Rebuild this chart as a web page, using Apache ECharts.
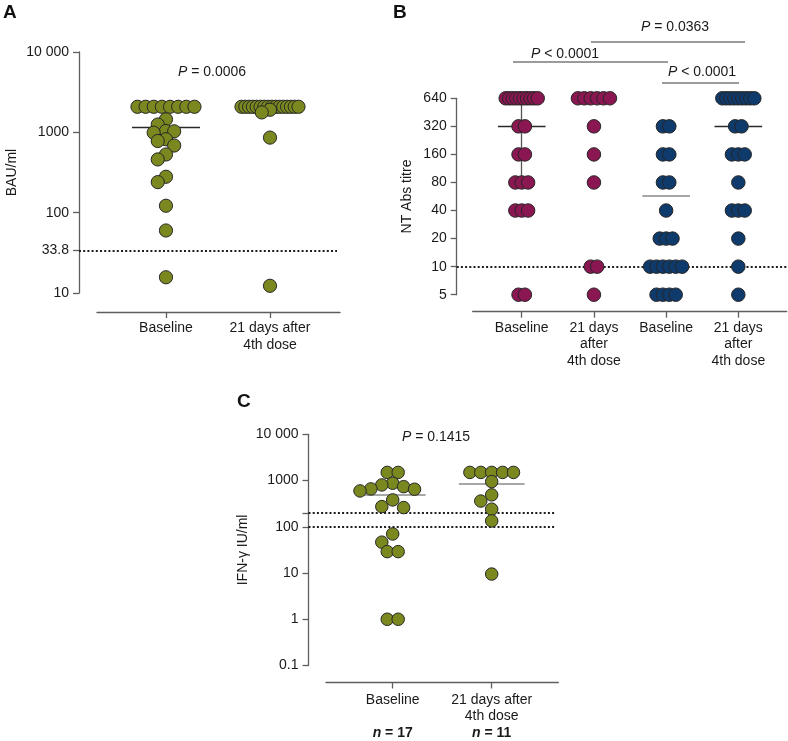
<!DOCTYPE html>
<html>
<head>
<meta charset="utf-8">
<script src="https://cdn.jsdelivr.net/npm/echarts@6/dist/echarts.min.js"></script>
<style>
html, body { margin: 0; padding: 0; background: #fff; }
#chart { width: 788px; height: 741px; }
</style>
</head>
<body>
<div id="chart"></div>
<script>
// panel A - anti-spike antibodies
let groupsA = ['Baseline', '21 days after\n4th dose'];
let bauBaseline = [2080, 2080, 2080, 2080, 2080, 2080, 2080, 2080, 1450, 1250, 1040, 1030, 990, 820, 780, 685, 530, 460, 280, 240, 122, 60, 15.7];
let bauAfter = [2080, 2080, 2080, 2080, 2080, 2080, 2080, 2080, 2080, 2080, 2080, 2080, 2080, 2080, 2080, 2080, 1910, 1770, 860, 12.3];
let bauMean = [1150, 2080];
let bauCutoff = 33.8;
let bauTicks = [10, 33.8, 100, 1000, 10000];

// panel B - neutralising antibody titres
let groupsB = ['Baseline', '21 days\nafter\n4th dose', 'Baseline', '21 days\nafter\n4th dose'];
let ntMagentaBaseline = [640, 640, 640, 640, 640, 640, 640, 640, 640, 640, 320, 320, 160, 160, 80, 80, 80, 40, 40, 40, 5, 5];
let ntMagentaAfter = [640, 640, 640, 640, 640, 640, 320, 160, 80, 10, 10, 5];
let ntBlueBaseline = [320, 320, 160, 160, 80, 80, 40, 20, 20, 20, 10, 10, 10, 10, 10, 10, 5, 5, 5, 5];
let ntBlueAfter = [640, 640, 640, 640, 640, 640, 640, 640, 640, 320, 320, 160, 160, 160, 80, 40, 40, 40, 20, 10, 5];
let ntCentre = [320, null, 57, 320];
let ntRange = [80, 640];
let ntCutoff = 10;
let ntTicks = [5, 10, 20, 40, 80, 160, 320, 640];

// panel C - IFN-gamma release
let groupsC = ['Baseline', '21 days after\n4th dose'];
let ifnBaseline = [1500, 1500, 875, 803, 738, 659, 649, 596, 381, 273, 260, 70, 46.5, 29, 29, 1, 1];
let ifnAfter = [1500, 1500, 1500, 1500, 1500, 950, 490, 360, 240, 134, 9.5];
let ifnMedian = [490, 860];
let ifnN = [17, 11];
let ifnCutoff = [200, 100];
let ifnTicks = [0.1, 1, 10, 100, 200, 1000, 10000];
let ifnLabels = [0.1, 1, 10, 100, 1000, 10000];

let FONT = '"Liberation Sans", Arial, Helvetica, sans-serif';
let AXIS = '#5e5e5e';
let TXT = '#1a1a1a';
let OLIVE = '#7b881f';
let MAGENTA = '#8a1752';
let BLUE = '#0e3a6c';

let panels = [
	{ left: 97, top: 52, width: 243, height: 241, yOff: 18, xOff: 19, xMin: 0.337, xMax: 2.673 },
	{ left: 472.7, top: 98.3, width: 314, height: 196.4, yOff: 16, xOff: 17, xMin: 0.321, xMax: 4.67 },
	{ left: 326, top: 434.3, width: 232.3, height: 231.4, yOff: 17.5, xOff: 17, xMin: 0.326, xMax: 2.673 }
];

let chart = echarts.init(document.getElementById('chart'));

function fmtTick(v) {
	let r = Math.round(v * 1000) / 1000;
	if (r >= 10000) return String(r).replace(/(\d)(?=(\d{3})+$)/g, '$1 ');
	return String(r);
}

function yAxisLog(i, base, min, max, ticks, labels, name, gap) {
	return {
		type: 'log', logBase: base, gridIndex: i, min: min, max: max, offset: panels[i].yOff,
		name: name, nameLocation: 'middle', nameGap: gap, nameRotate: 90,
		nameTextStyle: { fontFamily: FONT, fontSize: 14, color: TXT },
		axisLine: { show: true, lineStyle: { color: AXIS, width: 1.3 } },
		axisTick: { show: true, length: 6, customValues: ticks, lineStyle: { color: AXIS, width: 1.3 } },
		axisLabel: { customValues: labels, margin: 10, fontFamily: FONT, fontSize: 14, color: TXT, formatter: fmtTick },
		splitLine: { show: false }
	};
}

function xAxisGroups(i, n, formatter, margin, rich) {
	let pos = [];
	for (let k = 1; k <= n; k++) pos.push(k);
	return {
		type: 'value', gridIndex: i, position: 'bottom', min: panels[i].xMin, max: panels[i].xMax, offset: panels[i].xOff,
		axisLine: { show: true, onZero: false, lineStyle: { color: AXIS, width: 1.3 } },
		axisTick: { show: true, length: 6, customValues: pos, lineStyle: { color: AXIS, width: 1.3 } },
		axisLabel: { customValues: pos, margin: margin, fontFamily: FONT, fontSize: 14, color: TXT, lineHeight: 16.5, verticalAlign: 'top', formatter: formatter, rich: rich || {} },
		splitLine: { show: false }
	};
}

function dots(i, pos, values, colour, size, offsets) {
	return {
		type: 'scatter', xAxisIndex: i, yAxisIndex: i, z: 3, silent: true, clip: false, animation: false,
		symbol: 'circle', symbolSize: size,
		itemStyle: { color: colour, borderColor: '#262626', borderWidth: 1, opacity: 1 },
		data: values.map(function(v, k) {
			return { value: [pos, v], symbolOffset: [offsets ? offsets[k] : 0, 0] };
		})
	};
}

function seg(x1, y1, x2, y2, style) {
	return [{ coord: [x1, y1], lineStyle: style }, { coord: [x2, y2] }];
}

function cutoff(i, v, xEnd) {
	let p = panels[i];
	return [{ x: p.left - p.yOff, yAxis: v, lineStyle: { color: '#1c1c1c', width: 2, type: [2, 2.2] } }, { x: xEnd, yAxis: v }];
}

function lines(i, data) {
	return {
		type: 'scatter', xAxisIndex: i, yAxisIndex: i, data: [], silent: true,
		markLine: { silent: true, symbol: 'none', z: 1, animation: false, label: { show: false }, emphasis: { disabled: true }, data: data }
	};
}

// horizontal spread of the dots: equal values side by side, others pushed aside greedily
function spread(i, pos, values, step, maxWidth) {
	let off = values.map(function() { return 0; });
	let counts = {};
	values.forEach(function(v) { counts[v] = (counts[v] || 0) + 1; });
	let seen = {};
	values.forEach(function(v, k) {
		let c = counts[v];
		if (c > 1) {
			seen[v] = seen[v] === undefined ? 0 : seen[v] + 1;
			let s = Math.min(step, maxWidth / (c - 1));
			off[k] = (seen[v] - (c - 1) / 2) * s;
		}
	});
	let singles = [];
	values.forEach(function(v, k) { if (counts[v] === 1) singles.push(k); });
	singles.sort(function(a, b) { return values[b] - values[a]; });
	let placed = [];
	singles.forEach(function(k) {
		let y = chart.convertToPixel({ gridIndex: i }, [pos, values[k]])[1];
		for (let t = 0; t < 60; t++) {
			let dx = (t % 2 ? -1 : 1) * Math.ceil(t / 2) * step / 2;
			let ok = placed.every(function(p) {
				return (p.x - dx) * (p.x - dx) + (p.y - y) * (p.y - y) >= step * step - 0.01;
			});
			if (ok) {
				off[k] = dx;
				placed.push({ x: dx, y: y });
				break;
			}
		}
	});
	return off;
}

function pText(x, y, s) {
	return {
		type: 'text', x: x, y: y, silent: true,
		style: {
			text: s, fontFamily: FONT, fontSize: 14, fill: TXT, align: 'center', verticalAlign: 'middle',
			rich: { i: { fontStyle: 'italic', fontFamily: FONT, fontSize: 14, fill: TXT } }
		}
	};
}

function letter(x, y, s) {
	return { type: 'text', x: x, y: y, silent: true, style: { text: s, fontFamily: FONT, fontWeight: 'bold', fontSize: 19, fill: '#111', verticalAlign: 'top' } };
}

function bar(x1, x2, y) {
	return { type: 'line', silent: true, shape: { x1: x1, y1: y, x2: x2, y2: y }, style: { stroke: '#7a7a7a', lineWidth: 1.3 } };
}

function build(o) {
	let dark = { color: '#2a2a2a', width: 1.3, type: 'solid' };
	let grey = { color: '#8a8a8a', width: 1.6, type: 'solid' };

	let bLines = [cutoff(1, ntCutoff, 787)];
	bLines.push(seg(1, ntRange[0], 1, ntRange[1], { color: '#555', width: 1.3, type: 'solid' }));
	bLines.push(seg(0.84, ntRange[0], 1.16, ntRange[0], dark));
	bLines.push(seg(0.84, ntRange[1], 1.16, ntRange[1], dark));
	let centreStyles = [dark, dark, grey, dark];
	ntCentre.forEach(function(v, k) {
		if (v != null) bLines.push(seg(k + 0.67, v, k + 1.33, v, centreStyles[k]));
	});

	return {
		animation: false,
		backgroundColor: '#fff',
		grid: panels.map(function(p) {
			return { left: p.left, top: p.top, width: p.width, height: p.height, containLabel: false };
		}),
		xAxis: [
			xAxisGroups(0, 2, function(v) { return groupsA[Math.round(v) - 1]; }, 8),
			xAxisGroups(1, 4, function(v) { return groupsB[Math.round(v) - 1]; }, 8),
			xAxisGroups(2, 2, function(v) {
				let k = Math.round(v) - 1;
				let parts = groupsC[k].split('\n');
				while (parts.length < 2) parts.push(' ');
				return parts.join('\n') + '\n{n|n}{b| = ' + ifnN[k] + '}';
			}, 9, {
				n: { fontFamily: FONT, fontSize: 14, fontWeight: 'bold', fontStyle: 'italic', color: TXT, lineHeight: 16.5 },
				b: { fontFamily: FONT, fontSize: 14, fontWeight: 'bold', color: TXT, lineHeight: 16.5 }
			})
		],
		yAxis: [
			yAxisLog(0, 10, 10, 10000, bauTicks, bauTicks, 'BAU/ml', 60),
			yAxisLog(1, 2, 5, 640, ntTicks, ntTicks, 'NT Abs titre', 43),
			yAxisLog(2, 10, 0.1, 10000, ifnTicks, ifnLabels, 'IFN-\u03b3 IU/ml', 58)
		],
		series: [
			lines(0, [
				cutoff(0, bauCutoff, 337),
				seg(0.673, bauMean[0], 1.327, bauMean[0], dark),
				seg(1.673, bauMean[1], 2.327, bauMean[1], dark)
			]),
			dots(0, 1, bauBaseline, OLIVE, 13.2, o[0]),
			dots(0, 2, bauAfter, OLIVE, 13.2, o[1]),
			lines(1, bLines),
			dots(1, 1, ntMagentaBaseline, MAGENTA, 13.5, o[2]),
			dots(1, 2, ntMagentaAfter, MAGENTA, 13.5, o[3]),
			dots(1, 3, ntBlueBaseline, BLUE, 13.5, o[4]),
			dots(1, 4, ntBlueAfter, BLUE, 13.5, o[5]),
			lines(2, [
				cutoff(2, ifnCutoff[0], 555),
				cutoff(2, ifnCutoff[1], 555),
				seg(0.668, ifnMedian[0], 1.332, ifnMedian[0], grey),
				seg(1.668, ifnMedian[1], 2.332, ifnMedian[1], grey)
			]),
			dots(2, 1, ifnBaseline, OLIVE, 12.5, o[6]),
			dots(2, 2, ifnAfter, OLIVE, 12.5, o[7])
		],
		graphic: [
			letter(3, 3, 'A'),
			letter(393, 3, 'B'),
			letter(237, 392, 'C'),
			pText(212, 72, '{i|P} = 0.0006'),
			pText(675, 27, '{i|P} = 0.0363'),
			bar(591, 745, 42),
			pText(565, 54, '{i|P} < 0.0001'),
			bar(513, 668, 62),
			pText(702, 72, '{i|P} < 0.0001'),
			bar(662, 739, 83),
			pText(436, 437, '{i|P} = 0.1415')
		]
	};
}

chart.setOption(build([]));

let offsets = [
	spread(0, 1, bauBaseline, 8.2, 57),
	spread(0, 2, bauAfter, 8.2, 57),
	spread(1, 1, ntMagentaBaseline, 6.4, 32),
	spread(1, 2, ntMagentaAfter, 6.4, 32),
	spread(1, 3, ntBlueBaseline, 6.4, 32),
	spread(1, 4, ntBlueAfter, 6.4, 32),
	spread(2, 1, ifnBaseline, 10.9, 55),
	spread(2, 2, ifnAfter, 10.9, 55)
];
chart.setOption(build(offsets), true);
</script>
</body>
</html>
